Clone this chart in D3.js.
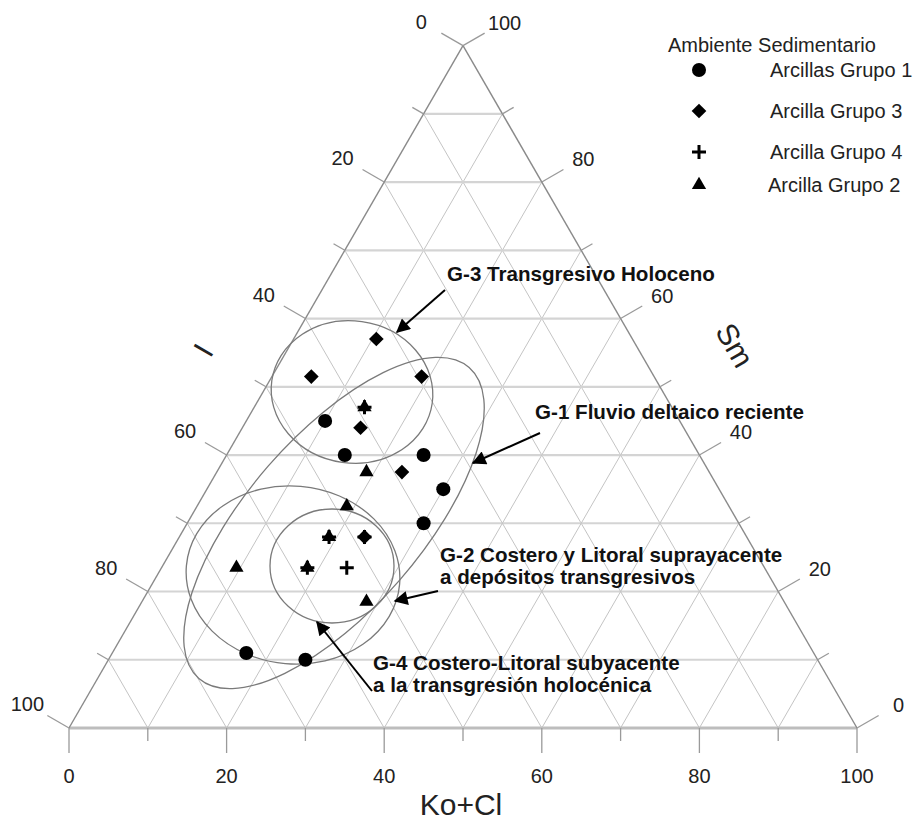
<!DOCTYPE html>
<html lang="es">
<head>
<meta charset="utf-8">
<script src="https://d3js.org/d3.v7.min.js"></script>
<title>Diagrama ternario</title>
<style>
  body { margin: 0; background: #fff; }
  svg { display: block; font-family: "Liberation Sans", Arial, sans-serif; }
  .tick-label { font-size: 20px; fill: #222; }
  .axis-title { font-size: 30px; fill: #222; }
  .note { font-size: 20.6px; font-weight: bold; fill: #111; }
  .legend text { font-size: 20px; fill: #222; }
</style>
</head>
<body>
<div id="chart"></div>
<script>
// ---- data: [Ko+Cl, I, Sm] in percent ----
var grupo1 = [[10, 45, 45], [15, 45, 40], [25, 35, 40], [30, 35, 35], [30, 40, 30], [17, 72, 11], [25, 65, 10]];
var grupo3 = [[10.5, 32.5, 57], [5, 43.5, 51.5], [19, 29.5, 51.5], [15, 41, 44], [23.5, 39, 37.5], [23.5, 48.5, 28]];
var grupo4 = [[14, 39, 47], [19, 53, 28], [23.5, 48.5, 28], [18.5, 58, 23.5], [23.5, 53, 23.5]];
var grupo2 = [[14, 39, 47], [19, 43.5, 37.5], [19, 48.5, 32.5], [19, 53, 28], [9.5, 67, 23.5], [18.5, 58, 23.5], [28.5, 53, 18.5]];

var gridSteps = d3.range(0, 101, 10);

var legendNames = ["Arcillas Grupo 1", "Arcilla Grupo 3", "Arcilla Grupo 4", "Arcilla Grupo 2"];

// envelopes around each group (in pixels, drawn by hand in the original)
var envelopes = [
  {cx: 352, cy: 392, rx: 81, ry: 71, rot: 8},    // G-3
  {cx: 334, cy: 523, rx: 206, ry: 87, rot: -49}, // G-1
  {cx: 332, cy: 566, rx: 62, ry: 57, rot: 0},    // G-2
  {cx: 293, cy: 575, rx: 107, ry: 89, rot: 5}    // G-4
];

var notes = [
  {lines: ["G-3 Transgresivo Holoceno"], x: 447, y: 281, from: [445, 290], to: [397, 332]},
  {lines: ["G-1 Fluvio deltaico reciente"], x: 535, y: 419, from: [540, 433], to: [473, 463]},
  {lines: ["G-2 Costero y Litoral suprayacente", "a depósitos transgresivos"], x: 440, y: 562, from: [438, 591], to: [395, 601]},
  {lines: ["G-4 Costero-Litoral subyacente", "a la transgresión holocénica"], x: 373, y: 670, from: [372, 691], to: [317, 622]}
];

var W = 917, H = 822;
var svg = d3.select("#chart").append("svg").attr("width", W).attr("height", H);

// ternary -> screen : horizontal from Ko + Sm/2, vertical from Sm
var side = 788;
var x = d3.scaleLinear().domain([0, 100]).range([69, 69 + side]);
var y = d3.scaleLinear().domain([0, 100]).range([728, 728 - side * Math.sqrt(3) / 2]);
function px(ko, sm) { return x(ko + sm / 2); }
function py(sm) { return y(sm); }

var c30 = Math.cos(Math.PI / 6), s30 = 0.5;

// grid
var grid = svg.append("g");
gridSteps.slice(1, -1).forEach(function(v) {
  // constant Sm (horizontal)
  grid.append("line")
    .attr("x1", px(0, v)).attr("y1", py(v)).attr("x2", px(100 - v, v)).attr("y2", py(v))
    .attr("stroke", "#d4d4d4").attr("stroke-width", 2.2);
  // constant Ko
  grid.append("line")
    .attr("x1", px(v, 0)).attr("y1", py(0)).attr("x2", px(v, 100 - v)).attr("y2", py(100 - v))
    .attr("stroke", "#c4c4c4").attr("stroke-width", 1);
  // constant I
  grid.append("line")
    .attr("x1", px(100 - v, 0)).attr("y1", py(0)).attr("x2", px(0, 100 - v)).attr("y2", py(100 - v))
    .attr("stroke", "#c4c4c4").attr("stroke-width", 1);
});

// outline
svg.append("line").attr("x1", px(0, 0)).attr("y1", py(0)).attr("x2", px(100, 0)).attr("y2", py(0))
  .attr("stroke", "#bdbdbd").attr("stroke-width", 3);
svg.append("line").attr("x1", px(0, 0)).attr("y1", py(0)).attr("x2", px(0, 100)).attr("y2", py(100))
  .attr("stroke", "#8a8a8a").attr("stroke-width", 1.4);
svg.append("line").attr("x1", px(100, 0)).attr("y1", py(0)).attr("x2", px(0, 100)).attr("y2", py(100))
  .attr("stroke", "#8a8a8a").attr("stroke-width", 1.4);

// ticks and labels
var ticks = svg.append("g").attr("stroke", "#9a9a9a").attr("stroke-width", 1.3);
var labels = svg.append("g");
gridSteps.forEach(function(v) {
  var major = v % 20 === 0;
  var len = major ? 25 : 13;
  // bottom: Ko+Cl
  ticks.append("line").attr("x1", px(v, 0)).attr("y1", py(0)).attr("x2", px(v, 0)).attr("y2", py(0) + len);
  if (major) labels.append("text").attr("class", "tick-label").attr("text-anchor", "middle")
    .attr("x", px(v, 0)).attr("y", py(0) + 55).text(v);
  // left: I = 100 - Sm along Ko = 0
  var lx = px(0, v), ly = py(v);
  ticks.append("line").attr("x1", lx).attr("y1", ly).attr("x2", lx - c30 * len).attr("y2", ly - s30 * len);
  if (major) labels.append("text").attr("class", "tick-label").attr("text-anchor", "middle")
    .attr("x", lx - c30 * 48).attr("y", ly - s30 * 48 + 7).text(100 - v);
  // right: Sm along I = 0
  var rx = px(100 - v, v), ry = py(v);
  ticks.append("line").attr("x1", rx).attr("y1", ry).attr("x2", rx + c30 * len).attr("y2", ry - s30 * len);
  if (major) labels.append("text").attr("class", "tick-label").attr("text-anchor", "middle")
    .attr("x", rx + c30 * 48).attr("y", ry - s30 * 48 + 8).text(v);
});

// axis titles
svg.append("text").attr("class", "axis-title").attr("text-anchor", "middle")
  .attr("x", x(50) - 2).attr("y", 815).text("Ko+Cl");
svg.append("text").attr("class", "axis-title").attr("text-anchor", "middle")
  .attr("transform", "translate(203,350) rotate(-60)").attr("dy", "0.36em").text("I");
svg.append("text").attr("class", "axis-title").attr("text-anchor", "middle")
  .attr("transform", "translate(735,345) rotate(60)").attr("dy", "0.36em").text("Sm");

// envelopes
svg.append("g").selectAll("ellipse").data(envelopes).enter().append("ellipse")
  .attr("transform", function(d) { return "translate(" + d.cx + "," + d.cy + ") rotate(" + d.rot + ")"; })
  .attr("rx", function(d) { return d.rx; }).attr("ry", function(d) { return d.ry; })
  .attr("fill", "none").attr("stroke", "#7a7a7a").attr("stroke-width", 1.3);

// symbols
var symCircle = d3.symbol().type(d3.symbolCircle).size(155)();
var symDiamond = d3.symbol().type(d3.symbolSquare).size(108)();
var symTriangle = d3.symbol().type(d3.symbolTriangle).size(88)();
var symPlus = "M-7,0H7M0,-7V7";

function drawGroup(data, path, isStroke) {
  svg.append("g").selectAll("path").data(data).enter().append("path")
    .attr("d", path)
    .attr("transform", function(d) {
      return "translate(" + px(d[0], d[2]) + "," + py(d[2]) + ")" + (path === symDiamond ? " rotate(45)" : "");
    })
    .attr("fill", isStroke ? "none" : "#000")
    .attr("stroke", isStroke ? "#000" : "none")
    .attr("stroke-width", isStroke ? 3 : 0);
}
drawGroup(grupo1, symCircle, false);
drawGroup(grupo3, symDiamond, false);
drawGroup(grupo2, symTriangle, false);
drawGroup(grupo4, symPlus, true);

// annotations with arrows
svg.append("defs").append("marker")
  .attr("id", "head").attr("viewBox", "0 0 10 10").attr("refX", 9).attr("refY", 5)
  .attr("markerWidth", 8).attr("markerHeight", 7).attr("markerUnits", "strokeWidth")
  .attr("orient", "auto")
  .append("path").attr("d", "M0,0L10,5L0,10Z").attr("fill", "#000");

notes.forEach(function(n) {
  svg.append("line").attr("x1", n.from[0]).attr("y1", n.from[1]).attr("x2", n.to[0]).attr("y2", n.to[1])
    .attr("stroke", "#000").attr("stroke-width", 2).attr("marker-end", "url(#head)");
  var t = svg.append("text").attr("class", "note").attr("x", n.x).attr("y", n.y);
  n.lines.forEach(function(s, i) {
    t.append("tspan").attr("x", n.x).attr("dy", i === 0 ? 0 : 22).text(s);
  });
});

// legend
var legend = svg.append("g").attr("class", "legend");
legend.append("text").attr("x", 668).attr("y", 52).text("Ambiente Sedimentario");
var legendSyms = [symCircle, symDiamond, symPlus, symTriangle];
var legendY = [70, 111, 152, 185];
legendNames.forEach(function(name, i) {
  legend.append("path").attr("d", legendSyms[i])
    .attr("transform", "translate(699," + legendY[i] + ")" + (i === 1 ? " rotate(45)" : ""))
    .attr("fill", i === 2 ? "none" : "#000")
    .attr("stroke", i === 2 ? "#000" : "none").attr("stroke-width", 3);
  legend.append("text").attr("x", i === 3 ? 768 : 770).attr("y", legendY[i] + 7).text(name);
});
</script>
</body>
</html>
